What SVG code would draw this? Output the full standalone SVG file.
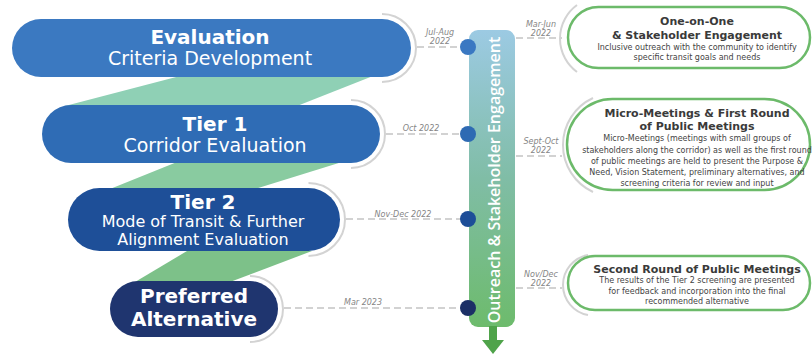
<svg xmlns="http://www.w3.org/2000/svg" width="812" height="355" viewBox="0 0 812 355">
<defs>
<linearGradient id="barGrad" x1="0" y1="0" x2="0" y2="1">
<stop offset="0" stop-color="#9ccae3"/>
<stop offset="0.5" stop-color="#80bda6"/>
<stop offset="1" stop-color="#6dbb6c"/>
</linearGradient>
<style>
.ptitle{font-family:"DejaVu Sans",sans-serif;font-weight:bold;font-size:20px;fill:#fff;text-anchor:middle}
.psub{font-family:"DejaVu Sans",sans-serif;font-size:19px;fill:#fff;text-anchor:middle}
.psub2{font-family:"DejaVu Sans",sans-serif;font-size:16px;fill:#fff;text-anchor:middle}
.arc{fill:none;stroke:#d3d3d3;stroke-width:2}
.dash{fill:none;stroke:#c4c4c4;stroke-width:1.3;stroke-dasharray:7 4}
.date{font-family:"DejaVu Sans",sans-serif;font-style:italic;font-size:8px;fill:#858585;text-anchor:middle}
.box{fill:#fff;stroke:#6cba6a;stroke-width:2.5}
.btitle{font-family:"DejaVu Sans",sans-serif;font-weight:bold;font-size:11px;fill:#3a3a3a;text-anchor:middle}
.btext{font-family:"DejaVu Sans",sans-serif;font-size:8px;fill:#444;text-anchor:middle}
.vtext{font-family:"Open Sans",sans-serif;font-weight:600;font-size:16px;fill:#fff;text-anchor:middle}
</style>
</defs>
<rect width="812" height="355" fill="#fff"/>

<g id="connectors">
<polygon points="180,76 373,76 297,106 65,106" fill="#8fd0b5"/>
<polygon points="177,162 342,162 255,189 110,189" fill="#89cba0"/>
<polygon points="187,251 312,251 230,282 135,282" fill="#7dc189"/>
<path class="dash" d="M417,47 H461"/>
<path class="dash" d="M386,134 H461"/>
<path class="dash" d="M346,219 H461"/>
<path class="dash" d="M284,308 H461"/>
<path class="dash" d="M516,38 H562"/>
<path class="dash" d="M516,156 H562"/>
<path class="dash" d="M516,288 H562"/>
</g>

<g id="node-evaluation">
<rect x="12" y="19" width="399" height="58" rx="29" fill="#3b79c1"/>
<path class="arc" d="M382,14 A34,34 0 0 1 382,82"/>
<text class="ptitle" x="210" y="44">Evaluation</text>
<text class="psub" x="210" y="65">Criteria Development</text>
<text class="date" x="440" y="35">Jul-Aug</text>
<text class="date" x="440" y="44">2022</text>
</g>

<g id="node-tier1">
<rect x="42" y="105" width="338" height="58" rx="29" fill="#2f6cb5"/>
<path class="arc" d="M351,100 A34,34 0 0 1 351,168"/>
<text class="ptitle" x="215" y="131">Tier 1</text>
<text class="psub" x="215" y="152">Corridor Evaluation</text>
<text class="date" x="421" y="131">Oct 2022</text>
</g>

<g id="node-tier2">
<rect x="68" y="188" width="272" height="63" rx="31.5" fill="#1e4f98"/>
<path class="arc" d="M308.5,183 A36.5,36.5 0 0 1 308.5,256"/>
<text class="ptitle" x="203" y="209">Tier 2</text>
<text class="psub2" x="203" y="227">Mode of Transit &amp; Further</text>
<text class="psub2" x="203" y="245">Alignment Evaluation</text>
<text class="date" x="403" y="217">Nov-Dec 2022</text>
</g>

<g id="node-preferred">
<rect x="110" y="281" width="168" height="56" rx="28" fill="#1f356f"/>
<path class="arc" d="M250,276 A33,33 0 0 1 250,342"/>
<text class="ptitle" x="194" y="303">Preferred</text>
<text class="ptitle" x="194" y="326">Alternative</text>
<text class="date" x="363" y="305">Mar 2023</text>
</g>

<g id="node-timeline">
<rect x="469" y="30" width="46" height="297" rx="9" fill="url(#barGrad)"/>
<text class="vtext" transform="translate(500,180) rotate(-90)" x="0" y="0">Outreach &amp; Stakeholder Engagement</text>
<rect x="489" y="326" width="8" height="15" fill="#4fa34a"/>
<polygon points="482,340 504,340 493,354" fill="#4fa34a"/>
<circle cx="468" cy="47" r="8" fill="#3a78c2"/>
<circle cx="468" cy="134" r="8" fill="#2e6ab3"/>
<circle cx="468" cy="219" r="8" fill="#1d4e98"/>
<circle cx="468" cy="308" r="8" fill="#1c3066"/>
</g>

<g id="node-one-on-one">
<path class="arc" d="M577,5 A41.5,41.5 0 0 0 577,72"/>
<rect class="box" x="568" y="7" width="242" height="61" rx="30.5"/>
<text class="date" x="541" y="27">Mar-Jun</text>
<text class="date" x="541" y="36">2022</text>
<text class="btitle" x="697" y="25">One-on-One</text>
<text class="btitle" x="697" y="39">&amp; Stakeholder Engagement</text>
<text class="btext" x="697" y="50">Inclusive outreach with the community to identify</text>
<text class="btext" x="697" y="60">specific transit goals and needs</text>
</g>

<g id="node-micro-meetings">
<path class="arc" d="M593,98 A51.8,51.8 0 0 0 593,192"/>
<rect class="box" x="567" y="99" width="243" height="91" rx="45.5"/>
<text class="date" x="541" y="144">Sept-Oct</text>
<text class="date" x="541" y="153">2022</text>
<text class="btitle" x="697" y="117">Micro-Meetings &amp; First Round</text>
<text class="btitle" x="697" y="130">of Public Meetings</text>
<text class="btext" x="697" y="141">Micro-Meetings (meetings with small groups of</text>
<text class="btext" x="697" y="153">stakeholders along the corridor) as well as the first round</text>
<text class="btext" x="697" y="164">of public meetings are held to present the Purpose &amp;</text>
<text class="btext" x="697" y="175">Need, Vision Statement, preliminary alternatives, and</text>
<text class="btext" x="697" y="186">screening criteria for review and input</text>
</g>

<g id="node-second-round">
<path class="arc" d="M588,255 A30.5,30.5 0 0 0 588,315"/>
<rect class="box" x="568" y="256" width="242" height="54" rx="27"/>
<text class="date" x="541" y="277">Nov/Dec</text>
<text class="date" x="541" y="286">2022</text>
<text class="btitle" x="697" y="273">Second Round of Public Meetings</text>
<text class="btext" x="697" y="283">The results of the Tier 2 screening are presented</text>
<text class="btext" x="697" y="294">for feedback and incorporation into the final</text>
<text class="btext" x="697" y="304">recommended alternative</text>
</g>
</svg>
